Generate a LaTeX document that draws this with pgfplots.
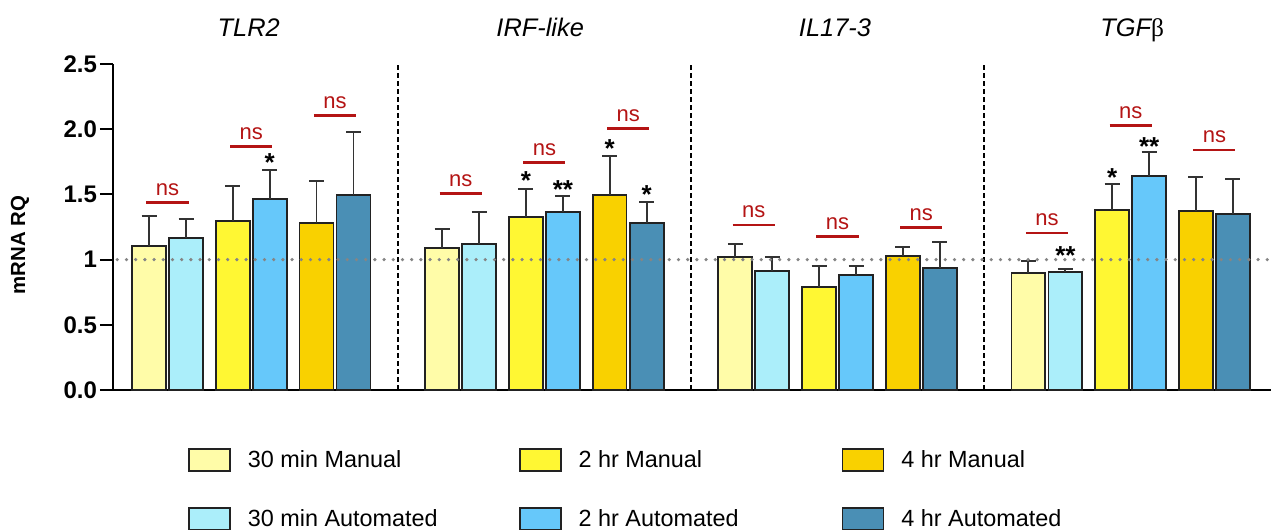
\documentclass[border=0pt]{standalone}
\usepackage{fontspec}
\setmainfont{Liberation Sans}
\newfontfamily\greekserif{Liberation Serif}
\usepackage{pgfplots}
\pgfplotsset{compat=1.18}
\definecolor{cAM}{HTML}{FFFCA8}
\definecolor{cAA}{HTML}{ABEEFA}
\definecolor{cBM}{HTML}{FFF733}
\definecolor{cBA}{HTML}{66C8FA}
\definecolor{cCM}{HTML}{F9D100}
\definecolor{cCA}{HTML}{4A8FB5}
\definecolor{edge}{HTML}{222222}
\definecolor{errc}{HTML}{333333}
\definecolor{nsred}{HTML}{B41414}
\definecolor{refgray}{HTML}{858585}

\pgfplotsset{
  mybar/.style={ybar, bar width=0.405, bar shift=0pt, fill=#1, draw=edge, line width=0.9pt,
    legend image code/.code={\draw[fill=#1, draw=edge, line width=0.9pt] (0pt,-1.3pt) rectangle (20.5pt,9.7pt);},
    error bars/.cd, y dir=plus, y explicit,
    error bar style={line width=0.9pt, color=errc},
    error mark options={rotate=90, line width=0.9pt, color=errc, mark size=3.75pt}},
}
\newcommand{\lent}[2]{\makebox[#1][l]{\hspace*{8.5pt}\raisebox{4pt}[\height][\depth]{#2}}}

\begin{document}
\begin{tikzpicture}
\useasboundingbox (0,0) rectangle (635.5pt,265pt);
\begin{axis}[
  at={(56.5pt,70pt)}, anchor=south west,
  scale only axis, width=579pt, height=163pt,
  xmin=-0.651, xmax=13.176, ymin=0, ymax=2.5,
  clip=false,
  axis x line=bottom, axis y line=left,
  axis line style={-, line width=1pt, black},
  xtick=\empty,
  ytick={0,0.5,1,1.5,2,2.5},
  yticklabels={0.0,0.5,1,1.5,2.0,2.5},
  tick align=outside, major tick length=6.5pt,
  tick style={line width=1pt, black},
  yticklabel style={font=\bfseries\fontsize{12}{14}\selectfont, xshift=2pt},
  ylabel={mRNA RQ},
  ylabel style={at={(axis description cs:-0.0803,0.445)}, anchor=center, font=\bfseries\fontsize{10.2}{12}\selectfont},
  legend columns=3, legend cell align=left,
  legend style={draw=none, fill=none, at={(0.0648,-0.178)}, anchor=north west,
    inner sep=0pt, outer sep=0pt, row sep=14.5pt, column sep=0pt,
    nodes={inner sep=0pt, outer sep=0pt}, font=\fontsize{11.7}{14}\selectfont},
]
% group separators
\addplot[forget plot, black, line width=0.7pt, dash pattern=on 2.5pt off 1.5pt, unbounded coords=jump]
  coordinates {(2.75,0) (2.75,2.5) (2.75,nan) (6.25,0) (6.25,2.5) (6.25,nan) (9.75,0) (9.75,2.5)};

% bars: x  y  e
\addplot[mybar=cAM] table[x=x,y=y,y error=e]{
x y e
-0.221 1.104 0.233
3.279 1.086 0.151
6.779 1.022 0.098
10.279 0.897 0.095
};
\addlegendentry{\lent{144pt}{30 min Manual}}
\addplot[mybar=cBM] table[x=x,y=y,y error=e]{
x y e
0.779 1.296 0.271
4.279 1.329 0.210
7.779 0.787 0.164
11.279 1.378 0.202
};
\addlegendentry{\lent{140pt}{2 hr Manual}}
\addplot[mybar=cCM] table[x=x,y=y,y error=e]{
x y e
1.779 1.281 0.319
5.279 1.495 0.299
8.779 1.030 0.064
12.279 1.370 0.263
};
\addlegendentry{\lent{100pt}{4 hr Manual}}
\addplot[mybar=cAA] table[x=x,y=y,y error=e]{
x y e
0.221 1.166 0.145
3.721 1.122 0.241
7.221 0.915 0.105
10.721 0.905 0.020
};
\addlegendentry{\lent{144pt}{30 min Automated}}
\addplot[mybar=cBA] table[x=x,y=y,y error=e]{
x y e
1.221 1.467 0.218
4.721 1.367 0.123
8.221 0.880 0.073
11.721 1.639 0.184
};
\addlegendentry{\lent{140pt}{2 hr Automated}}
\addplot[mybar=cCA] table[x=x,y=y,y error=e]{
x y e
2.221 1.498 0.481
5.721 1.281 0.161
9.221 0.933 0.202
12.721 1.352 0.264
};
\addlegendentry{\lent{100pt}{4 hr Automated}}

% reference line at 1
\addplot[forget plot, refgray, line width=1.8pt, line cap=round, dash pattern=on 0pt off 4.6pt]
  coordinates {(-0.60,1) (13.176,1)};

% significance bars
\addplot[forget plot, nsred, line width=1.3pt, unbounded coords=jump] coordinates {
(-0.252,1.436) (0.252,1.436) (0,nan)
(0.748,1.866) (1.252,1.866) (1,nan)
(1.748,2.107) (2.252,2.107) (2,nan)
(3.248,1.505) (3.752,1.505) (3.5,nan)
(4.248,1.746) (4.752,1.746) (4.5,nan)
(5.248,2.007) (5.752,2.007) (5.5,nan)
(6.748,1.265) (7.252,1.265) (7,nan)
(7.748,1.176) (8.252,1.176) (8,nan)
(8.748,1.245) (9.252,1.245) (9,nan)
(10.248,1.204) (10.752,1.204) (10.5,nan)
(11.248,2.030) (11.752,2.030) (11.5,nan)
(12.248,1.840) (12.752,1.840)
};

% ns labels
\begin{scope}[every node/.style={text=nsred, font=\fontsize{11}{13}\selectfont, anchor=center}]
\node at (axis cs:0,1.536) {ns};
\node at (axis cs:1,1.966) {ns};
\node at (axis cs:2,2.207) {ns};
\node at (axis cs:3.5,1.605) {ns};
\node at (axis cs:4.5,1.846) {ns};
\node at (axis cs:5.5,2.107) {ns};
\node at (axis cs:7,1.365) {ns};
\node at (axis cs:8,1.276) {ns};
\node at (axis cs:9,1.345) {ns};
\node at (axis cs:10.5,1.304) {ns};
\node at (axis cs:11.5,2.130) {ns};
\node at (axis cs:12.5,1.940) {ns};
\end{scope}

% asterisks
\begin{scope}[every node/.style={font=\bfseries\fontsize{13}{15}\selectfont, anchor=base, inner sep=0pt}]
\node at (axis cs:1.221,1.674) {*};
\node at (axis cs:4.279,1.534) {*};
\node at (axis cs:4.721,1.465) {**};
\node at (axis cs:5.279,1.781) {*};
\node at (axis cs:5.721,1.432) {*};
\node at (axis cs:10.721,0.964) {**};
\node at (axis cs:11.279,1.559) {*};
\node at (axis cs:11.721,1.797) {**};
\end{scope}

% gene titles
\begin{scope}[every node/.style={font=\itshape\fontsize{12.7}{15}\selectfont, anchor=base}]
\node at (axis cs:0.97,2.71) {TLR2};
\node at (axis cs:4.45,2.71) {IRF-like};
\node at (axis cs:7.97,2.71) {IL17-3};
\node at (axis cs:11.52,2.71) {TGF{\upshape\greekserif β}};
\end{scope}
\end{axis}
\end{tikzpicture}
\end{document}
